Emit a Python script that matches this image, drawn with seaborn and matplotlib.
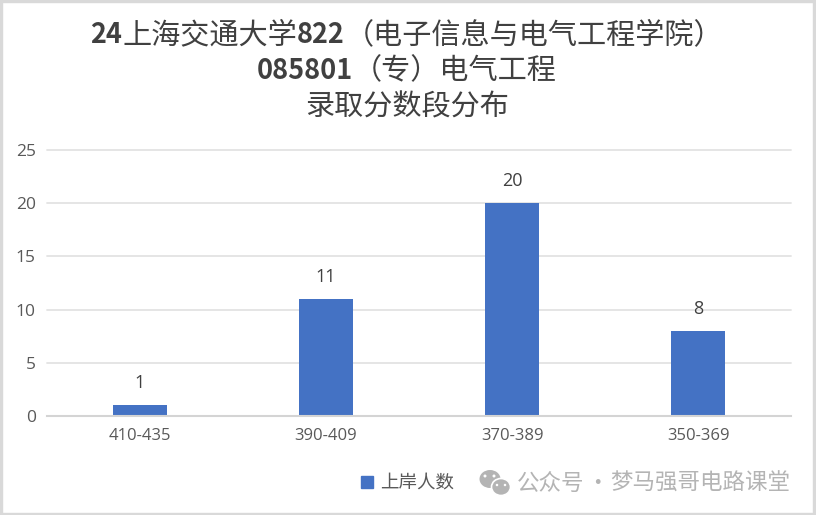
import matplotlib
matplotlib.use('Agg')
import matplotlib.pyplot as plt
from matplotlib.lines import Line2D
from matplotlib.patches import Ellipse, Rectangle
import seaborn as sns
import pandas as pd

score_bands = ['410-435', '390-409', '370-389', '350-369']
admitted = [1, 11, 20, 8]
y_ticks = [0, 5, 10, 15, 20, 25]
# (text, bold) runs, the original mixes a bold latin face with a lighter CJK one
title_line1 = [('24', True), ('上海交通大学', False), ('822', True), ('（电子信息与电气工程学院）', False)]
title_line2 = [('085801', True), ('（专）电气工程', False)]
title_line3 = [('录取分数段分布', False)]
legend_label = '上岸人数'
watermark_left = '公众号'
watermark_dot = '·'
watermark_right = '梦马强哥电路课堂'

sns.set_theme(style='white')
plt.rcParams['font.family'] = ['Noto Sans CJK SC', 'DejaVu Sans']

df = pd.DataFrame({'band': score_bands, 'n': admitted})

fig = plt.figure(figsize=(8.16, 5.15), dpi=100, facecolor='white')
ax = fig.add_axes([47 / 816, 1 - 416 / 515, (791 - 47) / 816, (416 - 150) / 515])
sns.barplot(data=df, x='band', y='n', color='#4472C4', saturation=1, width=0.285, linewidth=0, ax=ax)

ax.set_ylim(0, 25)
ax.set_yticks(y_ticks)
ax.set_xlabel('')
ax.set_ylabel('')
ax.grid(axis='y', color='#E3E3E3', linewidth=1.3, clip_on=False)
ax.set_axisbelow(True)
sns.despine(ax=ax, left=True)
ax.spines['bottom'].set_color('#D4D4D4')
ax.spines['bottom'].set_linewidth(1.5)
ax.tick_params(axis='y', labelsize=12.5, labelcolor='#595959', length=0, pad=8)
ax.tick_params(axis='x', labelsize=12, labelcolor='#595959', length=0, pad=9)
for lab in ax.get_xticklabels() + ax.get_yticklabels():
    lab.set_fontfamily('Open Sans')

for i, v in enumerate(admitted):
    ax.annotate(str(v), (i, v), xytext=(0, 9.5), textcoords='offset points',
                ha='center', va='bottom', fontsize=13, color='#404040', family='Open Sans')


def draw_runs(runs, y_px, size):
    # measure each run first so the whole line can be centred
    renderer = fig.canvas.get_renderer()
    items = []
    total = 0
    for s, bold in runs:
        t = fig.text(0, 1 - y_px / 515, s, fontsize=size - 1.5 if bold else size, color='#404040', va='center',
                     fontweight='bold' if bold else 'normal')
        w = t.get_window_extent(renderer).width
        items.append((t, w))
        total += w
    x = 407 - total / 2
    for t, w in items:
        t.set_x(x / 816)
        x += w


draw_runs(title_line1, 35, 21)
draw_runs(title_line2, 71, 21)
draw_runs(title_line3, 107, 21)

handle = Line2D([], [], marker='s', linestyle='none', color='#4472C4', markersize=8.5)
fig.legend([handle], [legend_label], loc='center', bbox_to_anchor=(401 / 816, 1 - 483 / 515),
           frameon=False, fontsize=13.3, labelcolor='#595959', handletextpad=-0.3)

for x_px, s, ha in [(517, watermark_left, 'left'), (597, watermark_dot, 'center'), (790, watermark_right, 'right')]:
    fig.text(x_px / 816, 1 - 483 / 515, s, ha=ha, va='center', fontsize=16.2, color='#B4B4B4')


# wechat mark next to the watermark, in pixel coordinates
def bubble(cx, cy, w, h, color, edge='none'):
    fig.add_artist(Ellipse((cx / 816, 1 - cy / 515), w / 816, h / 515, facecolor=color,
                           edgecolor=edge, linewidth=1.2, transform=fig.transFigure))


bubble(490, 479, 21, 18, '#B4B4B4')
bubble(485, 476, 3, 3, 'white')
bubble(494, 476, 3, 3, 'white')
bubble(501, 487, 19, 17, '#B4B4B4', 'white')
bubble(497, 485, 2.5, 2.5, 'white')
bubble(505, 485, 2.5, 2.5, 'white')

# grey screenshot frame around the picture
frame = [(0, 513, 816, 2), (0, 0, 816, 2), (0, 0, 2, 515), (813, 0, 3, 515)]
for x, y, w, h in frame:
    fig.add_artist(Rectangle((x / 816, y / 515), w / 816, h / 515, color='#D9D9D9',
                             transform=fig.transFigure))

fig.savefig('out.png', dpi=100)
